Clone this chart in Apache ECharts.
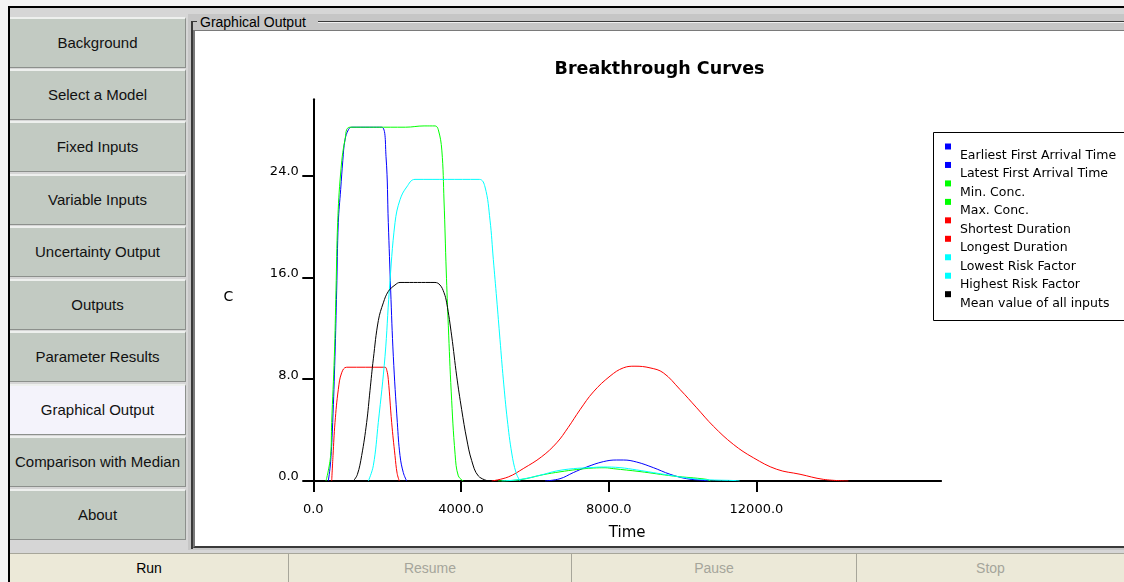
<!DOCTYPE html>
<html>
<head>
<meta charset="utf-8">
<script src="https://cdn.jsdelivr.net/npm/echarts@6/dist/echarts.min.js"></script>
<style>
  body { margin:0; width:1124px; height:582px; overflow:hidden; position:relative; background:#f4f4f4;
         font-family:"Liberation Sans", Arial, sans-serif; }
  .a { position:absolute; box-sizing:border-box; }
  .btn { position:absolute; left:10px; width:176px; height:51px; background:#c2cac2; box-sizing:border-box;
         border-top:2px solid #eef0ee; border-bottom:1px solid #8c908c; border-right:1px solid #8c908c;
         text-align:center; line-height:47px; font-size:15px; color:#111; }
  .btn.on { background:#f4f3fb; }
  .bb { position:absolute; top:554px; height:28px; background:#ece9d8; box-sizing:border-box;
        border-left:1px solid #a7a69a; text-align:center; line-height:28px; font-size:14px; color:#a5a59b; }
</style>
</head>
<body>
<!-- window frame -->
<div class="a" style="left:8px;top:6px;width:1116px;height:2px;background:#000"></div>
<div class="a" style="left:8px;top:6px;width:2px;height:576px;background:#000"></div>
<div class="a" style="left:10px;top:8px;width:1114px;height:545px;background:#d6d6d6"></div>

<!-- left menu -->
<div id="menu"></div>

<!-- group box -->
<div class="a" style="left:188px;top:14px;width:936px;height:536px;background:#c6c6c6"></div>
<div class="a" style="left:191px;top:21px;width:2px;height:528px;background:#3a3a3a"></div>
<div class="a" style="left:191px;top:21px;width:6px;height:1px;background:#3a3a3a"></div>
<div class="a" style="left:318px;top:21px;width:806px;height:1px;background:#3a3a3a"></div>
<div class="a" style="left:318px;top:22px;width:806px;height:1px;background:#f0f0f0"></div>
<div class="a" style="left:200px;top:14px;font-size:14px;line-height:16px;color:#000">Graphical Output</div>
<div class="a" style="left:193px;top:30px;width:931px;height:518px;background:#fff;border-left:2px solid #7a7a7a;border-top:1px solid #7a7a7a;border-bottom:2px solid #3a3a3a"></div>

<!-- bottom buttons -->
<div class="bb" style="left:10px;width:278px;color:#000;border-left:none">Run</div>
<div class="bb" style="left:288px;width:283px">Resume</div>
<div class="bb" style="left:571px;width:285px">Pause</div>
<div class="bb" style="left:856px;width:268px">Stop</div>
<div class="a" style="left:10px;top:553px;width:1114px;height:1px;background:#a7a69a"></div>

<div id="chart" class="a" style="left:195px;top:31px;width:929px;height:515px"></div>

<script type="text/javascript">
var menuItems = ['Background', 'Select a Model', 'Fixed Inputs', 'Variable Inputs', 'Uncertainty Output',
                 'Outputs', 'Parameter Results', 'Graphical Output', 'Comparison with Median', 'About'];
var activeItem = 'Graphical Output';

var timeTicks = [0, 4000, 8000, 12000];
var concTicks = [0, 8, 16, 24];

var seriesNames = ['Earliest First Arrival Time', 'Latest First Arrival Time', 'Min. Conc.', 'Max. Conc.',
                   'Shortest Duration', 'Longest Duration', 'Lowest Risk Factor', 'Highest Risk Factor',
                   'Mean value of all inputs'];

// [time, C]
var earliestArrival = [[406,0],[469,1.5],[525,4.6],[587,9.8],[633,15.0],[677,20.3],[741,22.9],[800,25.2],
  [858,26.8],[950,27.6],[1040,27.8],[1852,27.8],[1969,25.5],[2031,20.3],[2095,15.0],[2167,9.8],[2275,4.6],
  [2348,2.0],[2437,0.66],[2529,0]];
var latestArrival = [[6275,0],[6681,0.18],[7041,0.66],[7403,1.1],[7853,1.52],[8216,1.65],[8395,1.65],
  [8757,1.49],[9207,1.05],[9660,0.53],[10111,0.18],[10561,0.05],[10700,0]];
var minConc = [[5000,0],[5598,0.1],[6229,0.5],[6681,0.72],[7132,0.9],[7582,1.02],[7900,1.04],[8124,0.97],
  [8847,0.74],[9750,0.39],[10651,0.13],[10754,0]];
var maxConc = [[344,0],[469,2.0],[498,4.6],[570,9.8],[615,15.0],[660,20.3],[741,24.2],[858,26.8],[993,27.8],
  [2500,27.8],[3000,27.9],[3300,27.9],[3385,27.6],[3480,26.0],[3540,22.0],[3600,16.5],[3656,12.2],
  [3735,7.0],[3840,2.1],[3927,0.4],[4062,0]];
var shortestDuration = [[498,0],[534,2.0],[588,4.6],[678,7.2],[768,8.5],[903,8.94],[1942,8.94],[1990,8.7],
  [2031,7.97],[2122,4.6],[2212,2.0],[2270,0.6],[2329,0]];
var longestDuration = [[4831,0],[5280,0.32],[5700,1.0],[6180,1.9],[6591,3.0],[6900,4.2],[7222,5.6],
  [7583,7.0],[8035,8.24],[8395,8.89],[8711,9.02],[9118,8.89],[9478,8.5],[9930,7.19],[10382,5.75],
  [10832,4.31],[11374,2.88],[11915,1.83],[12549,0.92],[13180,0.53],[13811,0.13],[14488,0]];
var lowestRisk = [[5100,0],[5598,0.12],[6139,0.45],[6591,0.79],[7041,0.97],[7493,1.05],[7854,1.1],
  [8305,1.05],[8757,0.87],[9207,0.66],[9660,0.45],[10111,0.24],[10651,0.1],[11465,0.03],[11545,0]];
var highestRisk = [[1490,0],[1625,1.2],[1760,4.6],[1942,9.8],[2059,15.0],[2213,20.3],[2348,22.1],
  [2529,23.1],[2754,23.7],[4496,23.7],[4650,23.1],[4785,20.5],[4875,17.4],[4966,14.3],[5056,11.1],
  [5145,8.0],[5254,4.8],[5373,2.2],[5489,0.66],[5598,0]];
var meanAll = [[1083,0],[1192,0.5],[1310,2.0],[1445,4.6],[1535,7.1],[1626,9.6],[1761,12.6],[1896,14.0],
  [2032,14.9],[2212,15.4],[2348,15.6],[3295,15.6],[3431,15.4],[3539,14.8],[3612,14.0],[3747,11.4],
  [3883,8.24],[4018,5.6],[4154,3.3],[4289,1.6],[4468,0.4],[4739,0]];

var seriesData = [earliestArrival, latestArrival, minConc, maxConc, shortestDuration, longestDuration,
                  lowestRisk, highestRisk, meanAll];
var seriesColors = ['#0000ff', '#0000ff', '#00ff00', '#00ff00', '#ff0000', '#ff0000', '#00ffff', '#00ffff', '#000000'];

// left menu buttons
var menu = document.getElementById('menu');
for (var i = 0; i < menuItems.length; i++) {
  var b = document.createElement('div');
  b.className = 'btn' + (menuItems[i] == activeItem ? ' on' : '');
  b.style.top = (16.5 + i * 52.45) + 'px';
  b.textContent = menuItems[i];
  menu.appendChild(b);
}

var myChart = echarts.init(document.getElementById('chart'));

var series = [];
for (var k = 0; k < seriesNames.length; k++) {
  series.push({
    name: seriesNames[k],
    type: 'line',
    data: seriesData[k],
    color: seriesColors[k],
    showSymbol: false,
    smooth: 0.4,
    lineStyle: { width: 1, color: seriesColors[k] },
    animation: false
  });
}

var axisFont = { fontFamily: 'DejaVu Sans', fontSize: 13, color: '#000' };
var legendRow = 18.46;

var option = {
  animation: false,
  title: {
    text: 'Breakthrough Curves',
    left: 'center',
    top: 29,
    padding: 0,
    textStyle: { fontFamily: 'DejaVu Sans', fontWeight: 'bold', fontSize: 17.5, color: '#000' }
  },
  grid: { left: 118.3, top: 68.2, width: 627.8, height: 382.5 },
  xAxis: {
    type: 'value',
    min: 0, max: 17000, interval: 4000,
    name: 'Time',
    nameLocation: 'middle',
    nameGap: 45,
    nameTextStyle: { fontFamily: 'DejaVu Sans', fontSize: 15, color: '#000' },
    axisLine: { lineStyle: { color: '#000', width: 2 } },
    axisTick: { length: 11, customValues: timeTicks, lineStyle: { color: '#000', width: 2 } },
    axisLabel: Object.assign({ margin: 22, customValues: timeTicks,
      formatter: function (v) { return v.toFixed(1); } }, axisFont),
    splitLine: { show: false }
  },
  yAxis: {
    type: 'value',
    min: 0, max: 30, interval: 8,
    name: 'C',
    nameLocation: 'middle',
    nameRotate: 0,
    nameGap: 80,
    nameTextStyle: { fontFamily: 'DejaVu Sans', fontSize: 14, color: '#000', verticalAlign: 'top' },
    axisLine: { lineStyle: { color: '#000', width: 2 } },
    axisTick: { length: 11, customValues: concTicks, lineStyle: { color: '#000', width: 2 } },
    axisLabel: Object.assign({ margin: 14.5, customValues: concTicks, verticalAlign: 'bottom', lineHeight: 8,
      formatter: function (v) { return v.toFixed(1); } }, axisFont),
    splitLine: { show: false }
  },
  legend: {
    orient: 'vertical',
    left: 750,
    top: 115.5 - legendRow,
    padding: 0,
    itemGap: -legendRow,
    icon: 'rect',
    itemWidth: 6,
    itemHeight: 6,
    selectedMode: false,
    // text sits half a row below its colour square, as in the original
    formatter: function (name) { return '\n ' + name; },
    textStyle: { fontFamily: 'DejaVu Sans', fontSize: 12.5, color: '#000', lineHeight: legendRow },
    data: seriesNames
  },
  graphic: [{
    type: 'rect',
    z: 1,
    shape: { x: 738.5, y: 101.5, width: 300, height: 188 },
    style: { fill: '#fff', stroke: '#000', lineWidth: 1 }
  }],
  series: series
};
myChart.setOption(option);
</script>
</body>
</html>
